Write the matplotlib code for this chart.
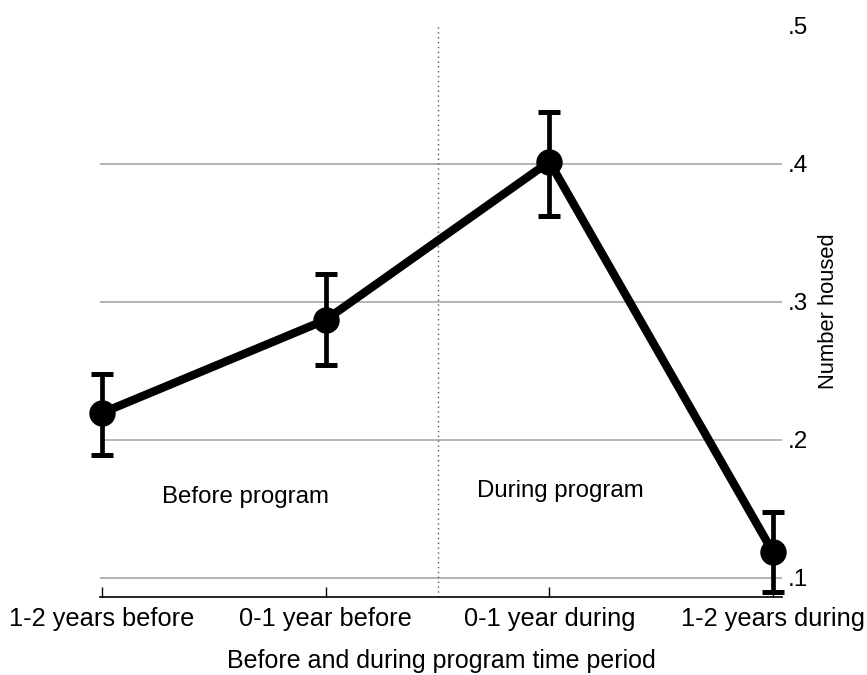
import matplotlib
matplotlib.use("Agg")
import matplotlib.pyplot as plt
import numpy as np

plt.rcParams['font.family'] = ['Liberation Sans', 'DejaVu Sans']

categories = ["1-2 years before", "0-1 year before", "0-1 year during", "1-2 years during"]
means = [0.2196, 0.287, 0.4017, 0.1186]
ci_low = [0.189, 0.254, 0.362, 0.0896]
ci_high = [0.248, 0.320, 0.438, 0.1476]
yticks = [0.1, 0.2, 0.3, 0.4, 0.5]
ytick_labels = [".1", ".2", ".3", ".4", ".5"]

fig = plt.figure(figsize=(8.67, 6.75), dpi=100)
ax = fig.add_axes([100/867, 78/675, 682/867, (597-26)/675])

x = np.arange(len(categories))
m = np.array(means)
lo = m - np.array(ci_low)
hi = np.array(ci_high) - m

for yv in yticks[:-1]:
    ax.axhline(yv, color="#b4b4b4", lw=1.4, zorder=0)

ax.axvline(1.5, color="#555555", lw=1.0, ls=(0, (1, 2.5)), zorder=1)

eb = ax.errorbar(x, m, yerr=[lo, hi], fmt="none", ecolor="black", elinewidth=3.4,
                 capsize=8, capthick=3.6, zorder=3)
for artist in eb.lines[1]:
    artist.set_clip_on(False)
for artist in eb.lines[2]:
    artist.set_clip_on(False)
ax.plot(x, m, color="black", lw=6, marker="o", markersize=18, zorder=4, clip_on=False)

ax.text(0.268, 0.159, "Before program", fontsize=17.3, ha="left", va="center")
ax.text(1.676, 0.163, "During program", fontsize=17.3, ha="left", va="center")

ax.set_xlim(-0.009, 3.040)
ax.set_ylim(0.0862, 0.5)

ax.set_xticks(x)
ax.set_xticklabels(categories, fontsize=18.3)
ax.tick_params(axis="x", direction="in", length=7, width=1, pad=7)

ax.yaxis.tick_right()
ax.yaxis.set_label_position("right")
ax.set_yticks(yticks)
ax.set_yticklabels(ytick_labels, fontsize=17.5)
ax.tick_params(axis="y", length=0, pad=4)
ax.set_ylabel("Number housed", fontsize=15.8, labelpad=7)
ax.set_xlabel("Before and during program time period", fontsize=18, labelpad=13.5)

for s in ["top", "left", "right"]:
    ax.spines[s].set_visible(False)
ax.spines["bottom"].set_linewidth(1.2)

fig.savefig("out.png", dpi=100)
